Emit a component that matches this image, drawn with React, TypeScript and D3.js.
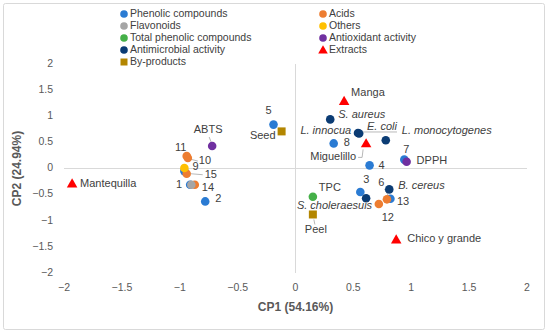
import React from 'react';
import * as d3 from 'd3';

// series data (CP1, CP2)
const phenolic = [
  { name: '1', x: -0.91, y: -0.31 },
  { name: '2', x: -0.78, y: -0.63 },
  { name: '3', x: 0.56, y: -0.45 },
  { name: '4', x: 0.64, y: 0.06 },
  { name: '5', x: -0.19, y: 0.84 },
  { name: '6', x: 0.82, y: -0.58 },
  { name: '7', x: 0.94, y: 0.17 },
  { name: '8', x: 0.33, y: 0.48 },
  { name: '9', x: -0.96, y: -0.05 },
];
const acids = [
  { name: '10', x: -0.93, y: 0.2 },
  { name: '11', x: -0.94, y: 0.24 },
  { name: '12', x: 0.72, y: -0.68 },
  { name: '13', x: 0.79, y: -0.59 },
  { name: '14', x: -0.87, y: -0.31 },
  { name: '15', x: -0.94, y: -0.1 },
];
const flavonoids = [{ name: '', x: -0.9, y: -0.31 }];
const others = [{ name: '', x: -0.96, y: 0.01 }];
const tpc = [{ name: 'TPC', x: 0.15, y: -0.54 }];
const antioxidant = [
  { name: 'ABTS', x: -0.72, y: 0.43 },
  { name: 'DPPH', x: 0.96, y: 0.13 },
];
const antimicrobial = [
  { name: 'S. aureus', x: 0.3, y: 0.94 },
  { name: 'L. innocua', x: 0.55, y: 0.67 },
  { name: 'E. coli', x: 0.54, y: 0.68 },
  { name: 'L. monocytogenes', x: 0.78, y: 0.54 },
  { name: 'S. choleraesuis', x: 0.61, y: -0.57 },
  { name: 'B. cereus', x: 0.81, y: -0.4 },
];
const extracts = [
  { name: 'Manga', x: 0.42, y: 1.29 },
  { name: 'Miguelillo', x: 0.61, y: 0.48 },
  { name: 'Mantequilla', x: -1.93, y: -0.29 },
  { name: 'Chico y grande', x: 0.87, y: -1.36 },
];
const byproducts = [
  { name: 'Seed', x: -0.12, y: 0.71 },
  { name: 'Peel', x: 0.15, y: -0.88 },
];
const ticks = [-2, -1.5, -1, -0.5, 0, 0.5, 1, 1.5, 2];

// drawing order follows the legend (row by row)
const series = [
  { label: 'Phenolic compounds', data: phenolic, color: '#2a7bd3', shape: 'circle' },
  { label: 'Acids', data: acids, color: '#ed7d31', shape: 'circle' },
  { label: 'Flavonoids', data: flavonoids, color: '#a5a5a5', shape: 'circle' },
  { label: 'Others', data: others, color: '#ffc000', shape: 'circle' },
  { label: 'Total phenolic compounds', data: tpc, color: '#45b048', shape: 'circle' },
  { label: 'Antioxidant activity', data: antioxidant, color: '#7030a0', shape: 'circle' },
  { label: 'Antimicrobial activity', data: antimicrobial, color: '#0b3c74', shape: 'circle' },
  { label: 'Extracts', data: extracts, color: '#ff0000', shape: 'triangle' },
  { label: 'By-products', data: byproducts, color: '#b38600', shape: 'square' },
];

// label placement: offset from the marker, anchor, optional leader
const labelPos: Record<string, { dx: number; dy: number; anchor: string; leader?: number[][] }> = {
  '1': { dx: -8, dy: 0, anchor: 'end' },
  '2': { dx: 10, dy: -2, anchor: 'start' },
  '3': { dx: 6, dy: -12, anchor: 'middle' },
  '4': { dx: 9, dy: 1, anchor: 'start' },
  '5': { dx: -5, dy: -14, anchor: 'middle' },
  '6': { dx: -9, dy: -16, anchor: 'middle', leader: [[-6, -10], [-2, -3]] },
  '7': { dx: 2, dy: -10, anchor: 'middle' },
  '8': { dx: 10, dy: 0, anchor: 'start' },
  '9': { dx: 8, dy: -4, anchor: 'start' },
  '10': { dx: 11, dy: 3, anchor: 'start', leader: [[2, 1], [10, 3]] },
  '11': { dx: -6, dy: -8, anchor: 'middle' },
  '12': { dx: 9, dy: 14, anchor: 'middle' },
  '13': { dx: 10, dy: 3, anchor: 'start' },
  '14': { dx: 7, dy: 3, anchor: 'start' },
  '15': { dx: 18, dy: 1, anchor: 'start', leader: [[4, 0], [16, 1]] },
  TPC: { dx: 6, dy: -9, anchor: 'start' },
  ABTS: { dx: -4, dy: -16, anchor: 'middle', leader: [[-3, -9], [-1, -4]] },
  DPPH: { dx: 10, dy: -1, anchor: 'start' },
  'S. aureus': { dx: 8, dy: -4, anchor: 'start' },
  'L. innocua': { dx: -8, dy: -2, anchor: 'end' },
  'E. coli': { dx: 9, dy: -6, anchor: 'start', leader: [[4, -1], [39, -1]] },
  'L. monocytogenes': { dx: 16, dy: -9, anchor: 'start' },
  'S. choleraesuis': { dx: 6, dy: 8, anchor: 'end' },
  'B. cereus': { dx: 9, dy: -3, anchor: 'start' },
  Manga: { dx: 7, dy: -8, anchor: 'start' },
  Miguelillo: { dx: -10, dy: 14, anchor: 'end', leader: [[-8, 14], [-4, 14], [-3, 6]] },
  Mantequilla: { dx: 8, dy: 0, anchor: 'start' },
  'Chico y grande': { dx: 11, dy: 0, anchor: 'start' },
  Seed: { dx: -6, dy: 5, anchor: 'end' },
  Peel: { dx: 3, dy: 16, anchor: 'middle', leader: [[1, 5], [2, 10]] },
};

const italic = new Set(antimicrobial.map((d) => d.name));

const W = 550;
const H = 333;
const x = d3.scaleLinear().domain([-2, 2]).range([64, 527]);
const y = d3.scaleLinear().domain([-2, 2]).range([273, 64]);
const font = '"Liberation Sans", Arial, sans-serif';

const Marker = ({ shape, color, cx, cy }: { shape: string; color: string; cx: number; cy: number }) => {
  if (shape === 'triangle') {
    const p = d3.symbol(d3.symbolTriangle, 48)();
    return <path d={p || ''} transform={`translate(${cx},${cy + 0.8})`} fill={color} />;
  }
  if (shape === 'square') return <rect x={cx - 4} y={cy - 4} width={8} height={8} fill={color} />;
  return <circle cx={cx} cy={cy} r={4.3} fill={color} />;
};

export default function App() {
  const legendCols = [124, 323];
  const line = d3.line();
  return (
    <svg width={W} height={H} style={{ position: 'absolute', left: 0, top: 0, fontFamily: font }}>
      <rect x={0} y={0} width={W} height={H} fill="#fff" />
      <rect x={3.5} y={3.5} width={541} height={326} fill="none" stroke="#d9d9d9" rx={2} />

      {/* zero axes */}
      <line x1={x(-2)} x2={x(2)} y1={y(0)} y2={y(0)} stroke="#d9d9d9" />
      <line x1={x(0)} x2={x(0)} y1={y(2)} y2={y(-2)} stroke="#d9d9d9" />

      {ticks.map((t) => (
        <text key={'x' + t} x={x(t)} y={288} textAnchor="middle" dominantBaseline="middle" fontSize={10.5} fill="#595959">
          {d3.format('')(t).replace('-', '\u2212')}
        </text>
      ))}
      {ticks.map((t) => (
        <text key={'y' + t} x={53} y={y(t)} textAnchor="end" dominantBaseline="middle" fontSize={10.5} fill="#595959">
          {d3.format('')(t).replace('-', '\u2212')}
        </text>
      ))}

      <text x={(x(-2) + x(2)) / 2} y={308} textAnchor="middle" dominantBaseline="middle" fontSize={12} fontWeight="bold" fill="#595959">
        CP1 (54.16%)
      </text>
      <text transform={`translate(18,${y(0)}) rotate(-90)`} textAnchor="middle" dominantBaseline="middle" fontSize={12} fontWeight="bold" fill="#595959">
        CP2 (24.94%)
      </text>

      {/* leader lines */}
      {series.map((s) =>
        s.data.map((d) => {
          const lp = labelPos[d.name];
          if (!lp || !lp.leader) return null;
          const pts = lp.leader.map(([a, b]) => [x(d.x) + a, y(d.y) + b] as [number, number]);
          return <path key={'l' + d.name} d={line(pts) || ''} fill="none" stroke="#a6a6a6" strokeWidth={0.8} />;
        })
      )}

      {series.map((s) =>
        s.data.map((d, i) => (
          <Marker key={s.label + i} shape={s.shape} color={s.color} cx={x(d.x)} cy={y(d.y)} />
        ))
      )}

      {series.map((s) =>
        s.data.map((d) => {
          const lp = labelPos[d.name];
          if (!d.name || !lp) return null;
          return (
            <text
              key={'t' + d.name}
              x={x(d.x) + lp.dx}
              y={y(d.y) + lp.dy}
              textAnchor={lp.anchor}
              dominantBaseline="middle"
              fontSize={11}
              fontStyle={italic.has(d.name) ? 'italic' : 'normal'}
              fill="#404040"
            >
              {d.name}
            </text>
          );
        })
      )}

      {/* legend: two columns, filled row by row */}
      {series.map((s, i) => {
        const lx = legendCols[i % 2];
        const ly = 14 + Math.floor(i / 2) * 12;
        return (
          <g key={'lg' + s.label}>
            {s.shape === 'circle' ? (
              <circle cx={lx} cy={ly} r={3.8} fill={s.color} />
            ) : s.shape === 'square' ? (
              <rect x={lx - 3.5} y={ly - 3.5} width={7} height={7} fill={s.color} />
            ) : (
              <path d={d3.symbol(d3.symbolTriangle, 40)() || ''} transform={`translate(${lx},${ly + 0.8})`} fill={s.color} />
            )}
            <text x={lx + 6} y={ly} dominantBaseline="middle" fontSize={10.5} fill="#404040">
              {s.label}
            </text>
          </g>
        );
      })}
    </svg>
  );
}
